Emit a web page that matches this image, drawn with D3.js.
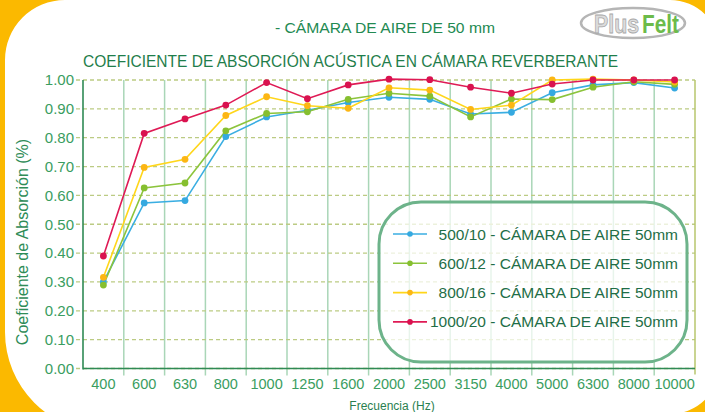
<!DOCTYPE html>
<html>
<head>
<meta charset="utf-8">
<script src="https://cdn.jsdelivr.net/npm/d3@7"></script>
<style>
  body { margin: 0; background: #fbb900; }
  svg { display: block; font-family: "Liberation Sans", Arial, sans-serif; }
</style>
</head>
<body>
<svg class="chart" width="705" height="412"></svg>
<script>
// frequencies (Hz)
var categories = ["400", "600", "630", "800", "1000", "1250", "1600", "2000", "2500", "3150", "4000", "5000", "6300", "8000", "10000"];

// absorption coefficient per series
var s500  = [0.30, 0.574, 0.582, 0.804, 0.872, 0.895, 0.922, 0.940, 0.933, 0.882, 0.888, 0.956, 0.983, 0.991, 0.972];
var s600  = [0.289, 0.626, 0.643, 0.824, 0.884, 0.890, 0.933, 0.954, 0.944, 0.872, 0.934, 0.932, 0.975, 0.994, 0.985];
var s800  = [0.316, 0.697, 0.725, 0.877, 0.942, 0.911, 0.902, 0.973, 0.965, 0.898, 0.913, 1.000, 1.003, 1.000, 0.993];
var s1000 = [0.39, 0.815, 0.865, 0.913, 0.991, 0.935, 0.983, 1.003, 1.001, 0.975, 0.954, 0.986, 1.000, 1.000, 1.000];

var seriesNames = ["500/10 - CÁMARA DE AIRE 50mm", "600/12 - CÁMARA DE AIRE 50mm", "800/16 - CÁMARA DE AIRE 50mm", "1000/20 - CÁMARA DE AIRE 50mm"];
var yTicks = [0, 0.1, 0.2, 0.3, 0.4, 0.5, 0.6, 0.7, 0.8, 0.9, 1.0];

var series = [
  {name: seriesNames[0], values: s500,  line: "#3aaee2", dot: "#35a9e0"},
  {name: seriesNames[1], values: s600,  line: "#8cc43c", dot: "#86bf2f"},
  {name: seriesNames[2], values: s800,  line: "#ffd61a", dot: "#fcb614"},
  {name: seriesNames[3], values: s1000, line: "#df1a55", dot: "#d9124f"}
];

var svg = d3.select(".chart");

// white card, orange shows in the corners
svg.append("path")
    .attr("d", "M5,60 A60,60 0 0 1 65,0 L670,0 A50,50 0 0 1 720,50 L720,364 A50,50 0 0 1 670,414 L105,432 A100,100 0 0 1 5,332 Z")
    .attr("fill", "#ffffff");

var pLeft = 83, pRight = 695, pTop = 80, pBottom = 368.5;

var x = d3.scaleBand()
    .domain(categories)
    .range([pLeft, pRight])
    .padding(0);

var y = d3.scaleLinear()
    .domain([0, 1])
    .range([pBottom, pTop]);

// vertical grid
svg.append("g")
    .selectAll("line")
    .data(categories.slice(1))
    .enter().append("line")
    .attr("x1", function(d) { return x(d); })
    .attr("x2", function(d) { return x(d); })
    .attr("y1", pTop)
    .attr("y2", pBottom + 7)
    .attr("stroke", "#a9d6b7")
    .attr("stroke-width", 1.5);

// horizontal dashed grid
svg.append("g")
    .selectAll("line")
    .data(yTicks)
    .enter().append("line")
    .attr("x1", pLeft - 7)
    .attr("x2", pRight)
    .attr("y1", function(d) { return y(d); })
    .attr("y2", function(d) { return y(d); })
    .attr("stroke", "#bccb83")
    .attr("stroke-width", 1.3)
    .attr("stroke-dasharray", "4,3");

// right border line
svg.append("line")
    .attr("x1", pRight).attr("x2", pRight)
    .attr("y1", pTop).attr("y2", pBottom + 6)
    .attr("stroke", "#b7c66c")
    .attr("stroke-width", 1.5);

// y axis
var yAxis = d3.axisLeft(y)
    .tickValues(yTicks)
    .tickFormat(d3.format(".2f"))
    .tickSize(0)
    .tickPadding(9);

var gy = svg.append("g")
    .attr("transform", "translate(" + pLeft + ",0)")
    .call(yAxis);
gy.select(".domain").remove();
gy.selectAll("text")
    .attr("fill", "#3a9d60")
    .style("font-size", "15px");

svg.append("line")
    .attr("x1", pLeft).attr("x2", pLeft)
    .attr("y1", pTop).attr("y2", pBottom + 1)
    .attr("stroke", "#2f8a55")
    .attr("stroke-width", 1.6);

// x axis
var xAxis = d3.axisBottom(x)
    .tickSize(0)
    .tickPadding(10);

var gx = svg.append("g")
    .attr("transform", "translate(0," + pBottom + ")")
    .call(xAxis);
gx.select(".domain").remove();
gx.selectAll("text")
    .attr("fill", "#3a9d60")
    .style("font-size", "14.5px");

svg.append("line")
    .attr("x1", pLeft).attr("x2", pRight)
    .attr("y1", pBottom).attr("y2", pBottom)
    .attr("stroke", "#2f8a55")
    .attr("stroke-width", 1.6);

// lines + dots
var line = d3.line()
    .x(function(d, i) { return x(categories[i]) + x.bandwidth() / 2; })
    .y(function(d) { return y(d); });

series.forEach(function(s) {
  svg.append("path")
      .datum(s.values)
      .attr("fill", "none")
      .attr("stroke", s.line)
      .attr("stroke-width", 1.6)
      .attr("d", line);
});
series.forEach(function(s) {
  svg.append("g")
      .selectAll("circle")
      .data(s.values)
      .enter().append("circle")
      .attr("cx", function(d, i) { return x(categories[i]) + x.bandwidth() / 2; })
      .attr("cy", function(d) { return y(d); })
      .attr("r", 3.4)
      .attr("fill", s.dot);
});

// legend
svg.append("rect")
    .attr("x", 379).attr("y", 202)
    .attr("width", 308).attr("height", 160)
    .attr("rx", 42).attr("ry", 42)
    .attr("fill", "#ffffff")
    .attr("fill-opacity", 0.72)
    .attr("stroke", "#6db38a")
    .attr("stroke-width", 3);

var lg = svg.append("g")
    .selectAll("g")
    .data(series)
    .enter().append("g")
    .attr("transform", function(d, i) { return "translate(0," + (234 + i * 29.3) + ")"; });
lg.append("line")
    .attr("x1", 393).attr("x2", 427)
    .attr("stroke", function(d) { return d.line; })
    .attr("stroke-width", 1.6);
lg.append("circle")
    .attr("cx", 410).attr("r", 2.8)
    .attr("fill", function(d) { return d.dot; });
lg.append("text")
    .attr("x", 678)
    .attr("dy", "0.36em")
    .attr("text-anchor", "end")
    .attr("fill", "#1f6e47")
    .style("font-size", "15.5px")
    .text(function(d) { return d.name; });

// titles
svg.append("text")
    .attr("x", 275).attr("y", 33)
    .attr("fill", "#238a52")
    .attr("textLength", 220)
    .attr("lengthAdjust", "spacingAndGlyphs")
    .style("font-size", "14px")
    .text("- CÁMARA DE AIRE DE 50 mm");

svg.append("text")
    .attr("x", 83).attr("y", 67)
    .attr("fill", "#1f7e4b")
    .attr("textLength", 535)
    .attr("lengthAdjust", "spacingAndGlyphs")
    .style("font-size", "16.5px")
    .text("COEFICIENTE DE ABSORCIÓN ACÚSTICA EN CÁMARA REVERBERANTE");

svg.append("text")
    .attr("transform", "translate(28,242) rotate(-90)")
    .attr("text-anchor", "middle")
    .attr("fill", "#2e8c57")
    .style("font-size", "16px")
    .text("Coeficiente de Absorción (%)");

svg.append("text")
    .attr("x", 392).attr("y", 410)
    .attr("text-anchor", "middle")
    .attr("fill", "#2a7f50")
    .style("font-size", "12px")
    .text("Frecuencia (Hz)");

// logo
svg.append("ellipse")
    .attr("cx", 633).attr("cy", 23)
    .attr("rx", 52).attr("ry", 15)
    .attr("fill", "none")
    .attr("stroke", "#b5b5b5")
    .attr("stroke-width", 2.5);
svg.append("text")
    .attr("x", 594).attr("y", 33)
    .attr("textLength", 45)
    .attr("lengthAdjust", "spacingAndGlyphs")
    .attr("fill", "#dcdcdc")
    .attr("stroke", "#a8a8a8")
    .attr("stroke-width", 0.8)
    .style("font-size", "25px")
    .style("font-weight", "bold")
    .text("Plus");
svg.append("text")
    .attr("x", 642).attr("y", 33)
    .attr("textLength", 37)
    .attr("lengthAdjust", "spacingAndGlyphs")
    .attr("fill", "#6cbb4a")
    .style("font-size", "25px")
    .style("font-weight", "bold")
    .text("Felt");
</script>
</body>
</html>
